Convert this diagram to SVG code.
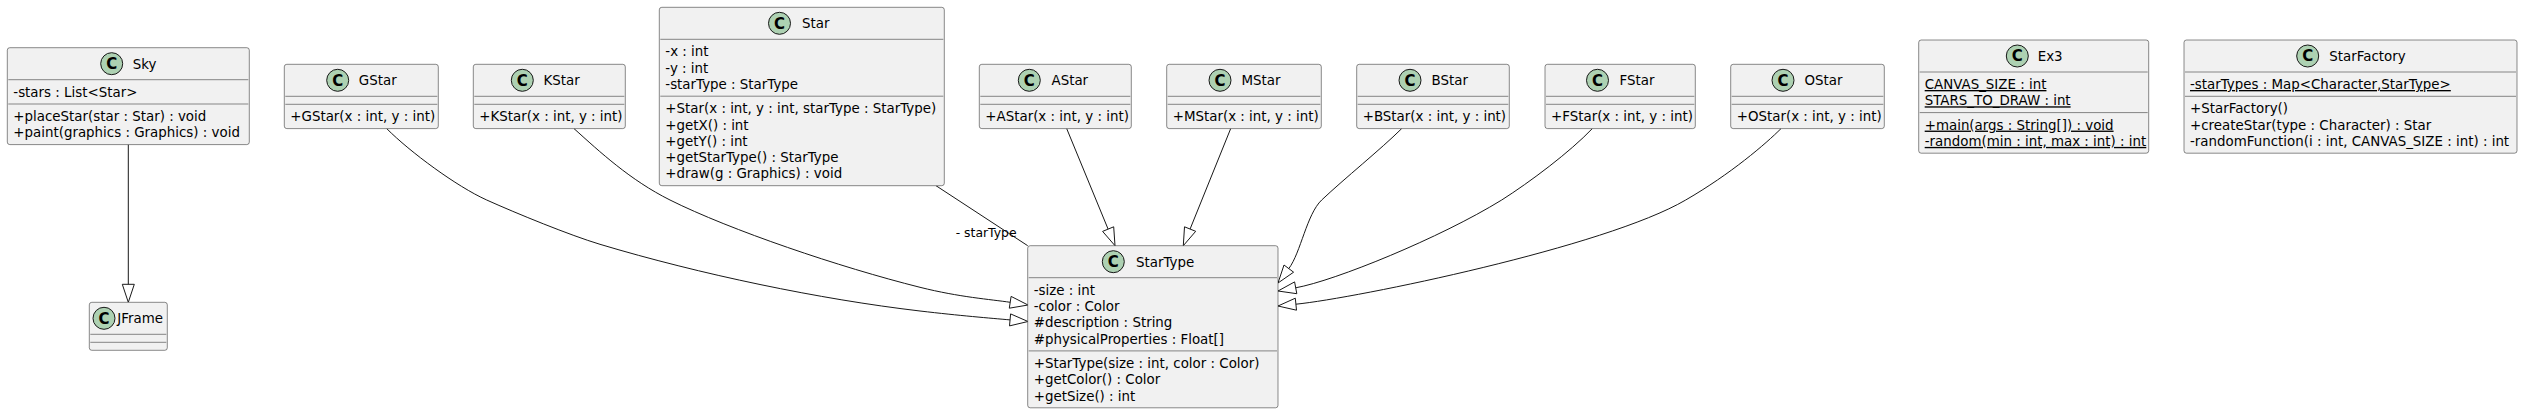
<svg xmlns="http://www.w3.org/2000/svg" width="2525" height="413" viewBox="0 0 2525 413">
<style>
text { font-family: "DejaVu Sans", "Noto Sans", sans-serif; font-size: 13.4px; fill: #000000; }
.box { fill: #F1F1F1; stroke: #181818; stroke-width: 0.5; }
.sep { stroke: #181818; stroke-width: 0.5; }
.circ { fill: #ADD1B2; stroke: #181818; stroke-width: 1; }
.cl { font-weight: bold; font-size: 15px; text-anchor: middle; }
.u { text-decoration: underline; }
.edge { fill: none; stroke: #181818; stroke-width: 1; }
.head { fill: none; stroke: #181818; stroke-width: 1; }
.lbl { font-size: 12.4px; }
</style>
<rect width="2525" height="413" fill="#FFFFFF"/>

<g id="connectors">
  <!-- Sky -> JFrame -->
  <path class="edge" d="M128.3,144.6 L128.3,284.3"/>
  <polygon class="head" points="128.3,302.3 122.3,284.3 134.3,284.3"/>
  <!-- GStar -> StarType -->
  <path class="edge" d="M386.7,128.6 C410,152 456.7,186.5 486.7,200 C516.7,213.5 570,235.3 600,244.3 C700,274.3 820,299.3 920,311 C960,315.7 990,318.1 1010.1,319.9"/>
  <polygon class="head" points="1028,321.5 1009.5,325.9 1010.6,313.9"/>
  <!-- KStar -> StarType -->
  <path class="edge" d="M574,128.6 C600,152 630,180 670,200 C730,230 840,267.3 920,287.3 C960,297.3 990.2,299.3 1010.2,302.3"/>
  <polygon class="head" points="1028,305 1009.3,308.2 1011.1,296.4"/>
  <!-- Star - StarType association -->
  <path class="edge" d="M936,185.7 L1027.7,245.7"/>
  <text class="lbl" x="955.7" y="237.3">- starType</text>
  <!-- AStar -> StarType -->
  <path class="edge" d="M1066.7,128.6 L1108.1,229.1"/>
  <polygon class="head" points="1115,245.7 1102.6,231.4 1113.7,226.8"/>
  <!-- MStar -> StarType -->
  <path class="edge" d="M1230.7,128.6 L1190.1,229"/>
  <polygon class="head" points="1183.3,245.7 1184.5,226.8 1195.7,231.3"/>
  <!-- BStar -> StarType -->
  <path class="edge" d="M1401.7,128.6 C1380,150 1345,178 1321.7,200 C1306.7,214.2 1300.8,252.6 1288.8,268.6"/>
  <polygon class="head" points="1278,283 1293.6,272.2 1284,265"/>
  <!-- FStar -> StarType -->
  <path class="edge" d="M1592.3,128.6 C1570,152 1530,182 1501.7,200 C1440,238 1335,280.7 1295.7,287.8"/>
  <polygon class="head" points="1278,291 1296.8,293.7 1294.6,281.9"/>
  <!-- OStar -> StarType -->
  <path class="edge" d="M1781,128.6 C1766,143.6 1730.7,174 1685.7,200 C1605.7,247 1355.6,298.2 1295.9,304.2"/>
  <polygon class="head" points="1278,306 1296.5,310.2 1295.3,298.2"/>
</g>

<g id="Sky">
  <rect class="box" x="7.3" y="47.7" width="242" height="96.9" rx="2.5" ry="2.5"/>
  <circle class="circ" cx="111.7" cy="63.7" r="11"/>
  <text class="cl" x="111.7" y="69.1">C</text>
  <text x="132.7" y="68.5">Sky</text>
  <line class="sep" x1="8.3" y1="79.7" x2="248.3" y2="79.7"/>
  <text x="13.3" y="96.7">-stars : List&lt;Star&gt;</text>
  <line class="sep" x1="8.3" y1="104" x2="248.3" y2="104"/>
  <text x="13.3" y="121">+placeStar(star : Star) : void</text>
  <text x="13.3" y="137.3">+paint(graphics : Graphics) : void</text>
</g>

<g id="JFrame">
  <rect class="box" x="89.3" y="302.3" width="78" height="48" rx="2.5" ry="2.5"/>
  <circle class="circ" cx="104" cy="318.3" r="11"/>
  <text class="cl" x="104" y="323.7">C</text>
  <text x="117.3" y="323.2">JFrame</text>
  <line class="sep" x1="90.3" y1="334.3" x2="166.3" y2="334.3"/>
  <line class="sep" x1="90.3" y1="342.3" x2="166.3" y2="342.3"/>
</g>

<g id="GStar">
  <rect class="box" x="284.3" y="64.3" width="154" height="64.3" rx="2.5" ry="2.5"/>
  <circle class="circ" cx="337.7" cy="80.3" r="11"/>
  <text class="cl" x="337.7" y="85.7">C</text>
  <text x="358.8" y="85.1">GStar</text>
  <line class="sep" x1="285.3" y1="96.3" x2="437.3" y2="96.3"/>
  <line class="sep" x1="285.3" y1="104.3" x2="437.3" y2="104.3"/>
  <text x="290.3" y="121.3">+GStar(x : int, y : int)</text>
</g>

<g id="KStar">
  <rect class="box" x="473.3" y="64.3" width="152" height="64.3" rx="2.5" ry="2.5"/>
  <circle class="circ" cx="522.3" cy="80.3" r="11"/>
  <text class="cl" x="522.3" y="85.7">C</text>
  <text x="543.5" y="85.1">KStar</text>
  <line class="sep" x1="474.3" y1="96.3" x2="624.3" y2="96.3"/>
  <line class="sep" x1="474.3" y1="104.3" x2="624.3" y2="104.3"/>
  <text x="479.3" y="121.3">+KStar(x : int, y : int)</text>
</g>

<g id="Star">
  <rect class="box" x="659.3" y="7.3" width="285" height="178.4" rx="2.5" ry="2.5"/>
  <circle class="circ" cx="779.5" cy="23.3" r="11"/>
  <text class="cl" x="779.5" y="28.7">C</text>
  <text x="802" y="28.1">Star</text>
  <line class="sep" x1="660.3" y1="39.3" x2="943.3" y2="39.3"/>
  <text x="665.3" y="56.3">-x : int</text>
  <text x="665.3" y="72.6">-y : int</text>
  <text x="665.3" y="88.9">-starType : StarType</text>
  <line class="sep" x1="660.3" y1="96.2" x2="943.3" y2="96.2"/>
  <text x="665.3" y="113.2">+Star(x : int, y : int, starType : StarType)</text>
  <text x="665.3" y="129.5">+getX() : int</text>
  <text x="665.3" y="145.8">+getY() : int</text>
  <text x="665.3" y="162.1">+getStarType() : StarType</text>
  <text x="665.3" y="178.4">+draw(g : Graphics) : void</text>
</g>

<g id="AStar">
  <rect class="box" x="979.3" y="64.3" width="152" height="64.3" rx="2.5" ry="2.5"/>
  <circle class="circ" cx="1029.3" cy="80.3" r="11"/>
  <text class="cl" x="1029.3" y="85.7">C</text>
  <text x="1051.5" y="85.1">AStar</text>
  <line class="sep" x1="980.3" y1="96.3" x2="1130.3" y2="96.3"/>
  <line class="sep" x1="980.3" y1="104.3" x2="1130.3" y2="104.3"/>
  <text x="985.3" y="121.3">+AStar(x : int, y : int)</text>
</g>

<g id="MStar">
  <rect class="box" x="1166.7" y="64.3" width="154.6" height="64.3" rx="2.5" ry="2.5"/>
  <circle class="circ" cx="1220" cy="80.3" r="11"/>
  <text class="cl" x="1220" y="85.7">C</text>
  <text x="1241.5" y="85.1">MStar</text>
  <line class="sep" x1="1167.7" y1="96.3" x2="1320.3" y2="96.3"/>
  <line class="sep" x1="1167.7" y1="104.3" x2="1320.3" y2="104.3"/>
  <text x="1172.7" y="121.3">+MStar(x : int, y : int)</text>
</g>

<g id="BStar">
  <rect class="box" x="1356.7" y="64.3" width="152.6" height="64.3" rx="2.5" ry="2.5"/>
  <circle class="circ" cx="1410" cy="80.3" r="11"/>
  <text class="cl" x="1410" y="85.7">C</text>
  <text x="1431.5" y="85.1">BStar</text>
  <line class="sep" x1="1357.7" y1="96.3" x2="1508.3" y2="96.3"/>
  <line class="sep" x1="1357.7" y1="104.3" x2="1508.3" y2="104.3"/>
  <text x="1362.7" y="121.3">+BStar(x : int, y : int)</text>
</g>

<g id="FStar">
  <rect class="box" x="1545" y="64.3" width="150.3" height="64.3" rx="2.5" ry="2.5"/>
  <circle class="circ" cx="1597.5" cy="80.3" r="11"/>
  <text class="cl" x="1597.5" y="85.7">C</text>
  <text x="1619.5" y="85.1">FStar</text>
  <line class="sep" x1="1546" y1="96.3" x2="1694.3" y2="96.3"/>
  <line class="sep" x1="1546" y1="104.3" x2="1694.3" y2="104.3"/>
  <text x="1551" y="121.3">+FStar(x : int, y : int)</text>
</g>

<g id="OStar">
  <rect class="box" x="1730.7" y="64.3" width="153.6" height="64.3" rx="2.5" ry="2.5"/>
  <circle class="circ" cx="1783" cy="80.3" r="11"/>
  <text class="cl" x="1783" y="85.7">C</text>
  <text x="1804.5" y="85.1">OStar</text>
  <line class="sep" x1="1731.7" y1="96.3" x2="1883.3" y2="96.3"/>
  <line class="sep" x1="1731.7" y1="104.3" x2="1883.3" y2="104.3"/>
  <text x="1736.7" y="121.3">+OStar(x : int, y : int)</text>
</g>

<g id="Ex3">
  <rect class="box" x="1918.7" y="40" width="230" height="113.2" rx="2.5" ry="2.5"/>
  <circle class="circ" cx="2017.3" cy="56" r="11"/>
  <text class="cl" x="2017.3" y="61.4">C</text>
  <text x="2037.7" y="60.8">Ex3</text>
  <line class="sep" x1="1919.7" y1="72" x2="2147.7" y2="72"/>
  <text class="u" x="1924.7" y="89">CANVAS_SIZE : int</text>
  <text class="u" x="1924.7" y="105.3">STARS_TO_DRAW : int</text>
  <line class="sep" x1="1919.7" y1="112.6" x2="2147.7" y2="112.6"/>
  <text class="u" x="1924.7" y="129.6">+main(args : String[]) : void</text>
  <text class="u" x="1924.7" y="145.9">-random(min : int, max : int) : int</text>
</g>

<g id="StarFactory">
  <rect class="box" x="2184" y="40" width="333" height="113.2" rx="2.5" ry="2.5"/>
  <circle class="circ" cx="2307.7" cy="56" r="11"/>
  <text class="cl" x="2307.7" y="61.4">C</text>
  <text x="2329.3" y="60.8">StarFactory</text>
  <line class="sep" x1="2185" y1="72" x2="2516" y2="72"/>
  <text class="u" x="2190" y="89">-starTypes : Map&lt;Character,StarType&gt;</text>
  <line class="sep" x1="2185" y1="96.3" x2="2516" y2="96.3"/>
  <text x="2190" y="113.3">+StarFactory()</text>
  <text x="2190" y="129.6">+createStar(type : Character) : Star</text>
  <text x="2190" y="145.9">-randomFunction(i : int, CANVAS_SIZE : int) : int</text>
</g>

<g id="StarType">
  <rect class="box" x="1027.7" y="245.7" width="250.3" height="162.1" rx="2.5" ry="2.5"/>
  <circle class="circ" cx="1113.3" cy="261.7" r="11"/>
  <text class="cl" x="1113.3" y="267.1">C</text>
  <text x="1136" y="266.5">StarType</text>
  <line class="sep" x1="1028.7" y1="277.7" x2="1277" y2="277.7"/>
  <text x="1033.7" y="294.7">-size : int</text>
  <text x="1033.7" y="311">-color : Color</text>
  <text x="1033.7" y="327.3">#description : String</text>
  <text x="1033.7" y="343.6">#physicalProperties : Float[]</text>
  <line class="sep" x1="1028.7" y1="350.9" x2="1277" y2="350.9"/>
  <text x="1033.7" y="367.9">+StarType(size : int, color : Color)</text>
  <text x="1033.7" y="384.2">+getColor() : Color</text>
  <text x="1033.7" y="400.5">+getSize() : int</text>
</g>
</svg>
